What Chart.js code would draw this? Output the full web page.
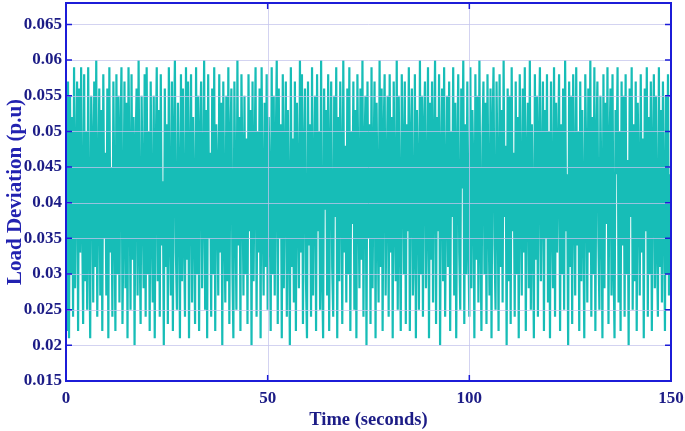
<!DOCTYPE html>
<html>
<head>
<meta charset="utf-8">
<script src="https://cdn.jsdelivr.net/npm/chart.js@4"></script>
<style>
  html, body { margin: 0; padding: 0; background: #fff; }
  #wrap { width: 685px; height: 431px; }
</style>
</head>
<body>
<div id="wrap"><canvas id="loadChart" width="685" height="431"></canvas></div>
<script>
// load deviation vs time (thousandths of p.u, one every 0.25 s)

const timeStep = 0.25;
const loadMilli = [
  47,22,57,21,55,30,52,24,59,28,45,57,22,56,33,59,38,23,58,29,
  50,25,59,36,21,55,48,26,57,31,60,24,42,56,27,53,22,58,35,47,
  27,56,21,59,33,45,24,57,40,22,58,30,55,26,49,59,23,37,57,28,
  54,21,59,44,25,58,32,52,20,47,56,27,60,35,23,55,41,28,58,24,
  59,30,50,22,57,38,26,55,21,46,59,29,53,24,58,34,43,20,56,31,
  51,23,59,37,27,57,22,48,60,33,25,54,42,21,58,29,56,36,24,59,
  32,57,21,45,58,26,52,39,23,59,30,55,22,49,57,28,41,60,25,53,
  21,58,35,47,24,56,30,59,22,51,43,27,58,33,54,20,57,38,26,55,
  29,59,23,48,56,31,21,57,40,25,60,34,52,22,58,44,27,55,30,49,
  23,58,36,53,20,57,29,45,59,24,50,33,56,21,59,39,27,54,31,58,
  25,52,42,22,59,30,55,27,47,60,23,56,35,51,21,58,28,44,57,24,
  53,38,20,59,31,49,26,57,22,54,41,28,60,33,58,23,46,56,29,21,
  57,34,51,24,59,27,43,55,22,58,36,50,25,60,30,21,56,39,53,27,
  58,22,46,57,31,24,55,38,59,21,52,29,57,44,23,60,33,48,26,56,
  30,59,22,50,37,57,25,53,21,58,42,28,56,32,60,24,47,55,20,57,
  35,51,23,59,28,45,57,21,54,39,26,60,31,56,22,49,58,27,43,55,
  24,58,33,52,21,57,40,29,60,25,55,37,22,58,46,30,57,23,51,36,
  59,22,48,56,27,34,58,21,53,43,25,60,30,55,24,50,57,28,39,59,
  21,54,32,57,26,47,60,23,52,36,58,20,45,56,29,59,24,41,55,31,
  57,22,50,38,59,27,54,21,46,58,33,25,56,42,60,23,51,30,57,35,
  24,59,28,53,44,21,58,32,55,26,60,37,22,49,57,30,54,23,58,40,
  27,56,21,50,59,34,25,57,43,22,58,31,53,26,60,38,48,20,56,29,
  55,23,59,36,47,24,57,30,52,21,58,41,27,56,33,59,22,45,54,28,
  60,25,51,37,21,58,32,55,24,48,59,29,43,57,22,53,35,58,26,50,
  21,57,39,28,59,24,54,33,46,58,22,51,30,56,25,60,36,44,20,57,
  31,55,23,58,42,27,59,34,50,22,57,29,53,38,21,58,45,26,56,33,
  60,24,52,30,59,22,48,57,35,25,55,41,21,58,28,54,37,59,23,47,
  56,27,58,32,21,53,44,59,26,50,22,57,34,55,24,58,30,46,20,56,
  38,59,25,51,29,57,22,54,43,27,58,33,49,21,56,36,59,24,52,30,
  57,22,46,58,28,55,35,24,59,31,53,26,57,40,22,55,30,58,27,44,
  32
];

const xTicks = [0, 50, 100, 150];
const yTicks = [0.015, 0.02, 0.025, 0.03, 0.035, 0.04, 0.045, 0.05, 0.055, 0.06, 0.065];

const frameColor = '#1c1cd8';
const labelColor = '#1c1c86';
const gridColor = 'rgba(196, 196, 236, 0.75)';

// grid over the line + box with inward ticks, like the matlab figure
const framePlugin = {
  id: 'frame',
  afterDatasetsDraw(chart) {
    const { ctx, chartArea: a, scales } = chart;
    ctx.save();
    ctx.lineWidth = 1;
    ctx.strokeStyle = gridColor;
    ctx.beginPath();
    yTicks.forEach(v => {
      const y = Math.round(scales.y.getPixelForValue(v)) + 0.5;
      ctx.moveTo(a.left, y); ctx.lineTo(a.right, y);
    });
    xTicks.forEach(v => {
      const x = Math.round(scales.x.getPixelForValue(v)) + 0.5;
      ctx.moveTo(x, a.top); ctx.lineTo(x, a.bottom);
    });
    ctx.stroke();

    ctx.strokeStyle = frameColor;
    ctx.lineWidth = 2;
    ctx.strokeRect(a.left, a.top, a.right - a.left, a.bottom - a.top);
    ctx.lineWidth = 1.5;
    ctx.beginPath();
    yTicks.forEach(v => {
      const y = scales.y.getPixelForValue(v);
      ctx.moveTo(a.left, y); ctx.lineTo(a.left + 6, y);
      ctx.moveTo(a.right, y); ctx.lineTo(a.right - 6, y);
    });
    xTicks.forEach(v => {
      const x = scales.x.getPixelForValue(v);
      ctx.moveTo(x, a.bottom); ctx.lineTo(x, a.bottom - 6);
      ctx.moveTo(x, a.top); ctx.lineTo(x, a.top + 6);
    });
    ctx.stroke();
    ctx.restore();
  }
};

new Chart(document.getElementById('loadChart'), {
  type: 'line',
  data: {
    datasets: [{
      data: loadMilli.map((v, i) => ({ x: i * timeStep, y: v / 1000 })),
      borderColor: '#17bdb7',
      borderWidth: 2.2,
      pointRadius: 0,
      tension: 0,
      fill: false
    }]
  },
  options: {
    responsive: false,
    animation: false,
    layout: { padding: { top: 3, right: 14, left: 0, bottom: 0 } },
    plugins: { legend: { display: false }, tooltip: { enabled: false } },
    scales: {
      x: {
        type: 'linear',
        min: 0,
        max: 150,
        afterBuildTicks: s => { s.ticks = xTicks.map(v => ({ value: v })); },
        afterFit: s => { s.height = 50; s.paddingLeft = 0; s.paddingRight = 0; },
        grid: { display: false, drawTicks: false },
        border: { display: false },
        ticks: {
          color: labelColor,
          padding: 7,
          font: { family: 'Liberation Serif', size: 17, weight: 'bold' }
        },
        title: {
          display: true,
          text: 'Time (seconds)',
          color: labelColor,
          padding: { top: 0, bottom: 0 },
          font: { family: 'Liberation Serif', size: 18.5, weight: 'bold' }
        }
      },
      y: {
        min: 0.015,
        max: 0.068,
        afterBuildTicks: s => { s.ticks = yTicks.map(v => ({ value: v })); },
        afterFit: s => { s.width = 66; s.paddingTop = 0; s.paddingBottom = 0; },
        grid: { display: false, drawTicks: false },
        border: { display: false },
        ticks: {
          color: labelColor,
          padding: 4,
          callback: v => String(+v.toFixed(3)),
          font: { family: 'Liberation Serif', size: 17, weight: 'bold' }
        },
        title: {
          display: true,
          text: 'Load Deviation (p.u)',
          color: '#2222b0',
          padding: { top: 3, bottom: 0 },
          font: { family: 'Liberation Serif', size: 21, weight: 'bold' }
        }
      }
    }
  },
  plugins: [framePlugin]
});
</script>
</body>
</html>
